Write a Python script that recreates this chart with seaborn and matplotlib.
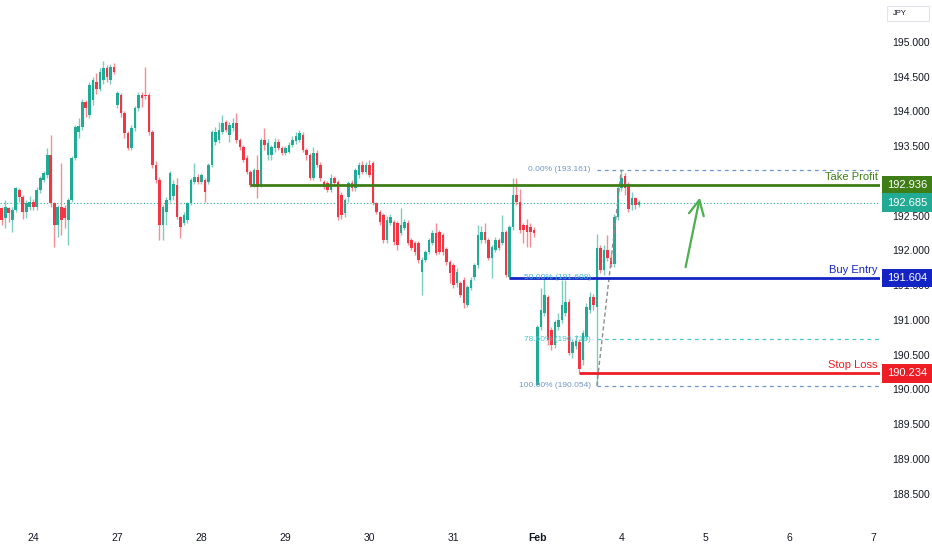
import matplotlib
matplotlib.use("Agg")
import matplotlib.pyplot as plt
import matplotlib.transforms as mtransforms
from matplotlib.patches import Rectangle
import seaborn as sns
import numpy as np

# hourly candles (JPY pair)
opens = [192.61, 192.47, 192.61, 192.44, 192.58, 192.87, 192.77, 192.55, 192.63, 192.70,
         192.63, 192.87, 193.02, 193.08, 193.37, 192.68, 192.37, 192.63, 192.61, 192.44,
         192.73, 193.33, 193.70, 193.78, 194.14, 193.95, 194.17, 194.42, 194.33, 194.45,
         194.62, 194.45, 194.64, 194.09, 194.24, 193.98, 193.69, 193.47, 193.76, 194.05,
         194.24, 194.24, 194.24, 193.70, 193.23, 193.02, 192.37, 192.55, 192.73, 192.78,
         192.94, 192.48, 192.40, 192.44, 192.68, 192.99, 193.06, 192.99, 193.01, 192.99,
         193.23, 193.56, 193.59, 193.70, 193.85, 193.66, 193.76, 193.83, 193.59, 193.49,
         193.33, 193.13, 192.94, 193.16, 192.94, 193.59, 193.37, 193.37, 193.47, 193.56,
         193.47, 193.40, 193.42, 193.52, 193.57, 193.59, 193.66, 193.45, 193.37, 193.04,
         193.40, 193.23, 192.99, 192.97, 192.87, 193.04, 192.99, 192.80, 192.54, 192.77,
         192.97, 192.90, 193.09, 193.23, 193.13, 193.23, 193.26, 192.68, 192.55, 192.51,
         192.15, 192.40, 192.41, 192.40, 192.25, 192.33, 192.40, 192.15, 192.11, 192.11,
         191.69, 191.86, 191.98, 192.11, 192.25, 192.27, 192.22, 192.02, 191.83, 191.79,
         191.53, 191.53, 191.58, 191.22, 191.46, 191.62, 191.79, 192.15, 192.27, 192.15,
         191.89, 192.01, 192.15, 192.11, 192.27, 191.62, 192.34, 192.80, 192.70, 192.37,
         192.37, 192.34, 192.29, 190.07, 190.90, 191.10, 191.33, 190.86, 190.64, 190.90,
         191.00, 191.10, 191.26, 190.52, 190.62, 190.68, 190.42, 190.75, 191.15, 191.33,
         191.19, 192.04, 191.72, 192.01, 191.89, 191.80, 192.48, 192.90, 193.07, 192.94,
         192.65, 192.75, 192.66]
highs = [192.63, 192.73, 192.63, 192.62, 192.91, 192.90, 192.80, 192.72, 192.78, 192.74,
         192.92, 193.07, 193.14, 193.47, 193.66, 192.70, 192.66, 193.26, 192.66, 192.76,
         193.36, 193.80, 193.90, 194.18, 194.16, 194.42, 194.50, 194.55, 194.62, 194.73,
         194.67, 194.68, 194.70, 194.30, 194.27, 194.01, 193.72, 193.80, 194.08, 194.28,
         194.28, 194.64, 194.27, 193.74, 193.28, 193.05, 192.66, 192.77, 193.15, 193.02,
         193.04, 192.50, 192.55, 192.70, 193.04, 193.26, 193.10, 193.12, 193.04, 193.26,
         193.73, 193.77, 193.85, 193.95, 193.88, 193.85, 193.90, 193.98, 193.62, 193.52,
         193.37, 193.16, 193.19, 193.37, 193.62, 193.76, 193.60, 193.52, 193.62, 193.60,
         193.50, 193.50, 193.56, 193.65, 193.70, 193.73, 193.70, 193.48, 193.40, 193.49,
         193.45, 193.27, 193.02, 193.00, 193.10, 193.07, 193.02, 192.84, 192.76, 193.00,
         193.01, 193.19, 193.27, 193.29, 193.27, 193.30, 193.29, 192.70, 192.58, 192.54,
         192.50, 192.52, 192.44, 192.42, 192.61, 192.45, 192.44, 192.18, 192.14, 192.14,
         191.90, 192.01, 192.18, 192.29, 192.40, 192.30, 192.25, 192.05, 191.86, 191.82,
         191.75, 191.56, 191.62, 191.50, 191.62, 191.82, 192.37, 192.35, 192.40, 192.18,
         192.08, 192.20, 192.18, 192.51, 192.30, 192.37, 193.04, 193.04, 192.88, 192.40,
         192.45, 192.40, 192.34, 190.93, 191.46, 191.62, 191.36, 190.90, 191.00, 191.10,
         191.58, 191.58, 191.30, 190.72, 190.78, 190.72, 190.86, 191.24, 191.40, 191.38,
         192.23, 192.08, 192.08, 192.22, 191.95, 192.52, 192.94, 193.161, 193.12, 192.99,
         192.84, 192.77, 192.72]
lows = [192.37, 192.32, 192.41, 192.27, 192.55, 192.70, 192.45, 192.47, 192.58, 192.58,
        192.58, 192.82, 192.98, 193.04, 192.62, 192.05, 192.20, 192.22, 192.32, 192.08,
        192.70, 193.30, 193.62, 193.74, 193.92, 193.90, 194.10, 194.25, 194.30, 194.40,
        194.42, 194.40, 194.54, 194.05, 193.92, 193.62, 193.45, 193.45, 193.72, 194.00,
        194.06, 194.18, 193.66, 193.18, 192.97, 192.15, 192.15, 192.37, 192.70, 192.72,
        192.45, 192.18, 192.36, 192.40, 192.65, 192.96, 192.95, 192.96, 192.70, 192.96,
        193.20, 193.52, 193.55, 193.68, 193.70, 193.56, 193.72, 193.55, 193.45, 193.27,
        193.10, 192.91, 192.91, 192.75, 192.91, 193.45, 193.30, 193.30, 193.42, 193.44,
        193.38, 193.37, 193.40, 193.49, 193.53, 193.56, 193.42, 193.30, 193.01, 193.01,
        193.20, 193.00, 192.88, 192.84, 192.84, 192.94, 192.44, 192.45, 192.48, 192.70,
        192.86, 192.85, 193.04, 193.10, 193.10, 193.05, 192.65, 192.52, 192.37, 192.11,
        192.11, 192.37, 192.08, 192.00, 192.22, 192.30, 192.08, 192.00, 191.93, 191.82,
        191.36, 191.83, 191.95, 192.08, 191.93, 191.95, 191.93, 191.79, 191.53, 191.46,
        191.48, 191.33, 191.17, 191.19, 191.43, 191.58, 191.75, 192.11, 192.11, 191.86,
        191.60, 191.98, 192.01, 192.08, 191.62, 191.60, 192.30, 192.65, 192.25, 192.11,
        192.05, 192.05, 192.20, 190.07, 190.86, 191.05, 190.64, 190.57, 190.60, 190.85,
        190.95, 191.05, 190.50, 190.45, 190.58, 190.234, 190.35, 190.71, 191.10, 191.15,
        190.054, 191.68, 191.65, 191.85, 191.76, 191.76, 192.44, 192.85, 192.80, 192.56,
        192.58, 192.60, 192.62]
closes = [192.44, 192.63, 192.54, 192.58, 192.90, 192.77, 192.55, 192.68, 192.70, 192.63,
          192.87, 193.04, 193.11, 193.37, 192.68, 192.37, 192.63, 192.44, 192.47, 192.73,
          193.33, 193.78, 193.79, 194.14, 194.05, 194.38, 194.45, 194.33, 194.57, 194.62,
          194.49, 194.64, 194.57, 194.27, 193.98, 193.69, 193.47, 193.76, 194.05, 194.24,
          194.20, 194.22, 193.70, 193.23, 193.02, 192.37, 192.62, 192.73, 193.12, 192.95,
          192.48, 192.34, 192.51, 192.68, 193.01, 193.06, 192.99, 193.09, 192.84, 193.23,
          193.70, 193.70, 193.73, 193.83, 193.73, 193.80, 193.83, 193.59, 193.49, 193.30,
          193.13, 192.94, 193.16, 192.92, 193.59, 193.52, 193.55, 193.49, 193.56, 193.47,
          193.40, 193.47, 193.52, 193.59, 193.64, 193.69, 193.45, 193.37, 193.04, 193.40,
          193.23, 193.04, 192.91, 192.87, 193.04, 192.97, 192.48, 192.51, 192.73, 192.97,
          192.90, 193.16, 193.23, 193.13, 193.23, 193.09, 192.68, 192.55, 192.41, 192.15,
          192.44, 192.48, 192.12, 192.08, 192.37, 192.41, 192.11, 192.04, 191.98, 191.86,
          191.86, 191.98, 192.15, 192.25, 191.96, 191.98, 191.98, 191.83, 191.68, 191.50,
          191.69, 191.36, 191.24, 191.47, 191.58, 191.79, 192.22, 192.27, 192.15, 191.89,
          192.05, 192.15, 192.04, 192.27, 191.65, 192.34, 192.80, 192.70, 192.29, 192.29,
          192.27, 192.27, 192.25, 190.90, 191.14, 191.36, 190.71, 190.64, 190.97, 191.00,
          191.22, 191.26, 190.52, 190.68, 190.70, 190.30, 190.81, 191.19, 191.33, 191.22,
          192.04, 191.72, 192.01, 191.89, 191.80, 192.48, 192.90, 193.04, 192.90, 192.60,
          192.75, 192.65, 192.69]

day_labels = ["24", "27", "28", "29", "30", "31", "Feb", "4", "5", "6", "7"]
day_starts = [9, 33, 57, 81, 105, 129, 153, 177, 201, 225, 249]
price_ticks = [188.5, 189.0, 189.5, 190.0, 190.5, 191.0, 191.5,
               192.0, 192.5, 193.0, 193.5, 194.0, 194.5, 195.0]

# trade levels
take_profit = 192.936
buy_entry = 191.604
stop_loss = 190.234
last_price = 192.685
tp_start, buy_start, sl_start = 71, 145, 165

# fib retracement drawn from the low to the high
fib_from, fib_to = 170, 177
fib_labels = ["0.00%", "50.00%", "78.60%", "100.00%"]
fib_values = [193.161, 191.608, 190.719, 190.054]
fib_colors = ["#6f97cc", "#3fb8e0", "#48c6cf", "#6f97cc"]

# hand-drawn arrow
arrow_from = (195.2, 191.72)
arrow_to = (199.6, 192.80)

sns.set_theme(style="white")
plt.rcParams["font.family"] = ["Liberation Sans", "DejaVu Sans"]

GREEN, RED = "#22ab94", "#f23645"
TP_COL, BUY_COL, SL_COL = "#3f7d17", "#1424c4", "#ee1c25"

fig = plt.figure(figsize=(9.32, 5.5), dpi=100)
ax = fig.add_axes([0, 28 / 550, 880 / 932, 522 / 550])

o, h, l, c = map(np.array, (opens, highs, lows, closes))
idx = np.arange(len(c))
up = c >= o
ax.vlines(idx, l, h, colors=np.where(up, "#7ccdbf", "#f68c95"), lw=1, zorder=2)
body = np.maximum(np.abs(c - o), 0.015)
ax.bar(idx, body, bottom=np.minimum(o, c), width=0.72,
       color=np.where(up, GREEN, RED), linewidth=0, zorder=3)

xmax = 250.9
ax.set_xlim(-0.5, xmax)
ax.set_ylim(188.092, 195.604)

# current price line
ax.axhline(last_price, color=GREEN, lw=0.8, ls=(0, (1, 2)), zorder=1)

# fib retracement
for lab, val, col in zip(fib_labels, fib_values, fib_colors):
    if lab != "50.00%":
        ax.hlines(val, fib_from, xmax, colors=col, lw=0.9, ls=(0, (3, 3)), zorder=1)
    ax.text(fib_from - 1.7, val, f"{lab} ({val:.3f})", ha="right", va="center",
            fontsize=6, color=col, zorder=6)
ax.plot([fib_from, fib_to], [fib_values[3], fib_values[0]], ls=(0, (3, 2)),
        color="#8d8d8d", lw=1, zorder=4)

# trade levels
for val, start, col, name in [(take_profit, tp_start, TP_COL, "Take Profit"),
                              (buy_entry, buy_start, BUY_COL, "Buy Entry"),
                              (stop_loss, sl_start, SL_COL, "Stop Loss")]:
    ax.hlines(val, start, xmax, colors=col, lw=2, zorder=5)
    ax.text(xmax - 0.7, val + 0.115, name, ha="right", va="center",
            fontsize=8, color=col, zorder=6)

ax.annotate("", xy=arrow_to, xytext=arrow_from,
            arrowprops=dict(arrowstyle="->,head_length=0.9,head_width=0.45",
                            color="#4caf50", lw=1.6), zorder=6)

# axes styling
for s in ax.spines.values():
    s.set_visible(False)
ax.yaxis.tick_right()
ax.set_yticks(price_ticks)
ax.set_yticklabels([f"{v:.3f}" for v in price_ticks])
ax.tick_params(axis="y", length=0, pad=9, labelsize=7.5, colors="#131722")
ax.set_xticks(day_starts)
ax.set_xticklabels(day_labels)
ax.tick_params(axis="x", length=0, pad=8, labelsize=7.5, colors="#131722")
ax.get_xticklabels()[6].set_fontweight("bold")
ax.grid(False)

# price tags on the axis (drawn over the tick labels)
trans = mtransforms.blended_transform_factory(fig.transFigure, ax.transData)
for val, col in [(take_profit, TP_COL), (last_price, GREEN),
                 (buy_entry, BUY_COL), (stop_loss, SL_COL)]:
    fig.text(907 / 932, val, f"{val:.3f}", transform=trans, ha="center", va="center",
             fontsize=8, color="white", zorder=10,
             bbox=dict(boxstyle="square,pad=0.4", fc=col, ec="none"))

fig.patches.append(Rectangle((887 / 932, 1 - 21 / 550), 42 / 932, 15 / 550,
                             transform=fig.transFigure, fc="white", ec="#e0e3eb", lw=0.8))
fig.text(893 / 932, 1 - 13.5 / 550, "JPY", fontsize=5.5, color="#131722", va="center")

fig.savefig("out.png", dpi=100)
